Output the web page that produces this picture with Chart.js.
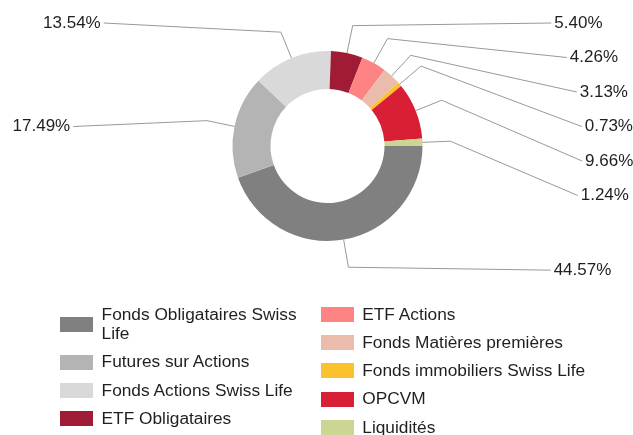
<!DOCTYPE html>
<html>
<head>
<meta charset="utf-8">
<script src="https://cdn.jsdelivr.net/npm/chart.js@4/dist/chart.umd.min.js"></script>
<style>
  body { margin: 0; background: #fff; font-family: "Liberation Sans", Arial, sans-serif; }
  #wrap { position: relative; width: 633px; height: 435px; overflow: hidden; }
  #myChart { position: absolute; left: 0; top: 0; }
  .col { position: absolute; top: 304.5px; }
  .item { position: relative; padding-left: 41.6px; margin-bottom: 8.8px; font-size: 17.3px; line-height: 19.5px; color: #1f1f1f; }
  .sw { position: absolute; left: 0; top: 50%; width: 33px; height: 15px; margin-top: -7.5px; }
  #col1 { left: 60px; }
  #col1 .item { max-width: 210px; }
  #col2 { left: 320.7px; white-space: nowrap; }
</style>
</head>
<body>
<div id="wrap">
  <canvas id="myChart" width="633" height="435"></canvas>
  <div class="col" id="col1"></div>
  <div class="col" id="col2"></div>
</div>
<script>
var categories = ["Fonds Obligataires Swiss Life", "Futures sur Actions", "Fonds Actions Swiss Life", "ETF Obligataires",
  "ETF Actions", "Fonds Matières premières", "Fonds immobiliers Swiss Life", "OPCVM", "Liquidités"];
var values = [44.57, 17.49, 13.54, 5.40, 4.26, 3.13, 0.73, 9.66, 1.24];
var colors = ["#808080", "#b4b4b4", "#d9d9d9", "#a01b36", "#fd8483", "#ebbcab", "#fcc22d", "#d91f35", "#cdd592"];
var legendCol1 = 4; // items in first legend column

let chart;

// leader lines + percentage labels around the ring
var outerLabels = {
  id: 'outerLabels',
  afterDraw: function(c) {
    var ctx = c.ctx;
    var arcs = c.getDatasetMeta(0).data;
    var top = 23, slot = 34.5;
    var items = [];
    arcs.forEach(function(a, i) {
      var mid = (a.startAngle + a.endAngle) / 2;
      items.push({ i: i, a: a, mid: mid, right: Math.cos(mid) >= 0, y: a.y + Math.sin(mid) * (a.outerRadius + 31) });
    });
    [true, false].forEach(function(side) {
      var list = items.filter(function(it) { return it.right === side; });
      list.sort(function(p, q) { return p.y - q.y; });
      var prev = -1e9;
      list.forEach(function(it) {
        // upper labels sit in fixed slots, the lowest ones stay free
        var y = it.y < c.getDatasetMeta(0).data[0].y + 80 ? top + Math.round((it.y - top) / slot) * slot : it.y;
        it.y = Math.max(y, prev + slot, top);
        prev = it.y;
      });
    });
    ctx.save();
    ctx.font = '17px "Liberation Sans", Arial, sans-serif';
    ctx.textBaseline = 'middle';
    items.forEach(function(it) {
      var a = it.a;
      var cx = a.x, cy = a.y, r = a.outerRadius;
      var dy = it.y - cy;
      var dx = Math.sqrt(Math.max(258 * 258 - dy * dy, 0));
      var tx = it.right ? cx + dx : cx - dx;
      ctx.strokeStyle = '#999';
      ctx.lineWidth = 1;
      ctx.beginPath();
      ctx.moveTo(cx + Math.cos(it.mid) * r, cy + Math.sin(it.mid) * r);
      ctx.lineTo(cx + Math.cos(it.mid) * (r + 28), cy + Math.sin(it.mid) * (r + 28));
      ctx.lineTo(it.right ? tx - 3 : tx + 3, it.y);
      ctx.stroke();
      ctx.fillStyle = '#1f1f1f';
      ctx.textAlign = it.right ? 'left' : 'right';
      ctx.fillText(values[it.i].toFixed(2) + '%', tx, it.y);
    });
    ctx.restore();
  }
};

window.onload = function() {
  var ctx = document.getElementById('myChart').getContext('2d');
  chart = new Chart(ctx, {
    type: 'doughnut',
    data: {
      labels: categories,
      datasets: [{
        data: values,
        backgroundColor: colors,
        borderWidth: 0,
        offset: 0,
        hoverOffset: 0
      }]
    },
    options: {
      responsive: false,
      animation: false,
      rotation: 90,
      cutout: '60%',
      events: [],
      layout: { padding: { left: 232.5, right: 210.5, top: 51, bottom: 194 } },
      plugins: {
        legend: { display: false },
        tooltip: { enabled: false }
      }
    },
    plugins: [outerLabels]
  });

  // two column html legend
  categories.forEach(function(name, i) {
    var item = document.createElement('div');
    item.className = 'item';
    item.innerHTML = '<span class="sw" style="background:' + colors[i] + '"></span>' + name;
    document.getElementById(i < legendCol1 ? 'col1' : 'col2').appendChild(item);
  });
};
</script>
</body>
</html>
